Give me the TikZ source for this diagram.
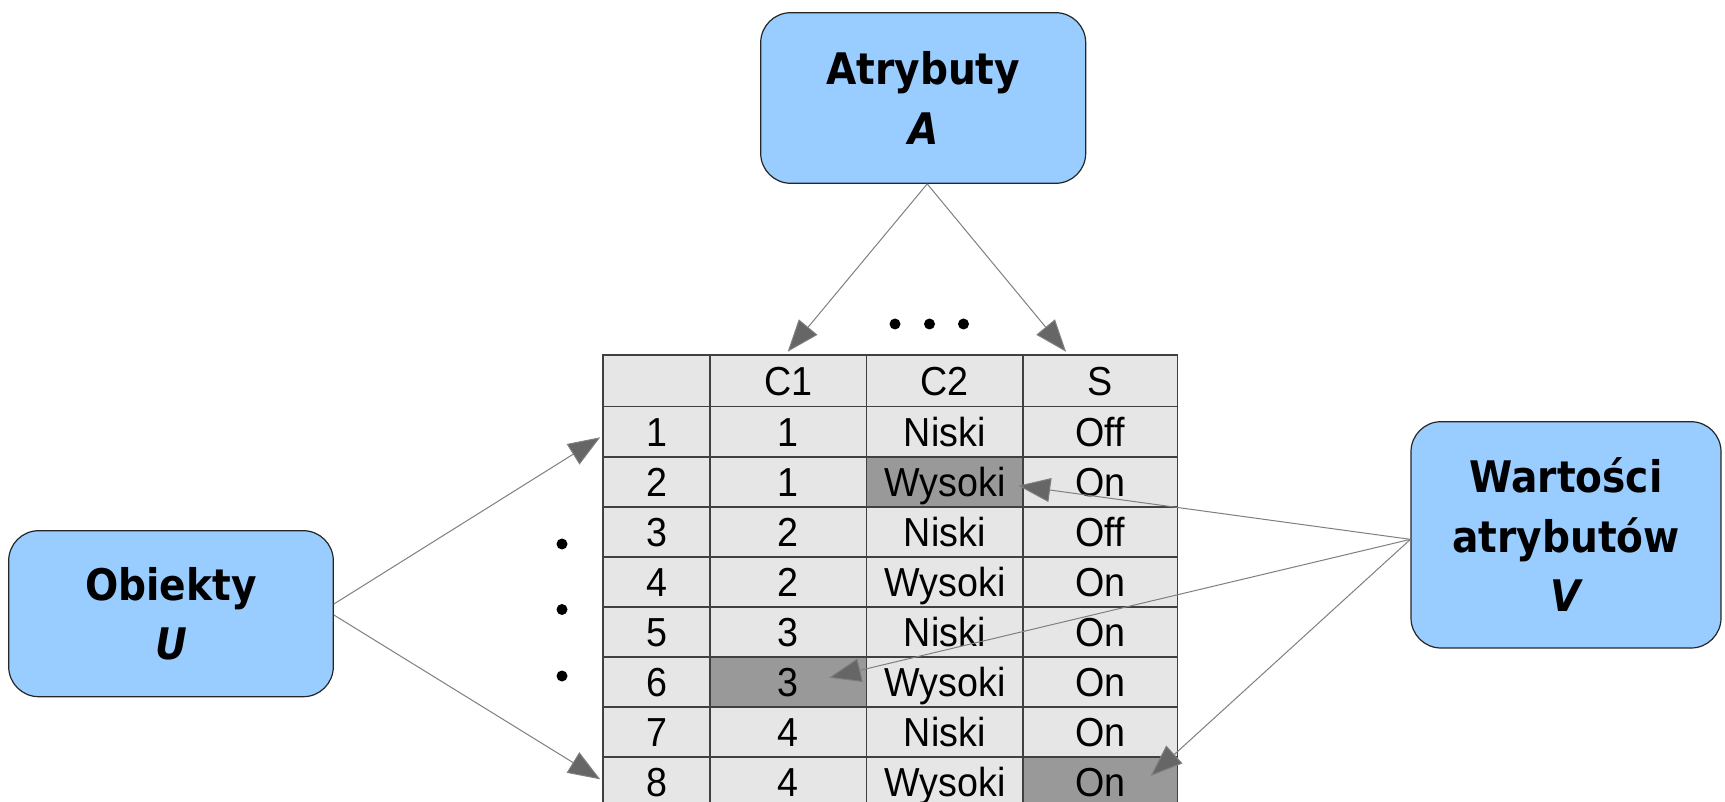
\documentclass[tikz,border=0pt]{standalone}
\usepackage{fontspec}
\usetikzlibrary{arrows.meta,calc}
\newfontfamily\cellfont{Liberation Sans}[FakeStretch=0.93,Kerning=Off]
\newfontfamily\labelfont{DejaVu Sans}[FakeStretch=0.9]
\definecolor{boxblue}{HTML}{99CCFF}
\definecolor{cellgray}{HTML}{E6E6E6}
\definecolor{markgray}{HTML}{999999}
\definecolor{gridgray}{HTML}{404040}
\definecolor{linkgray}{HTML}{7F7F7F}
\definecolor{tipgray}{HTML}{666666}
\tikzset{
  conceptbox/.style={draw=black!85, line width=1.2pt, fill=boxblue,
    rounded corners=30pt, inner sep=0pt, align=center,
    font=\labelfont\bfseries\fontsize{43.5}{59.5}\selectfont},
  cell/.style={draw=gridgray, line width=1.5pt, fill=cellgray, inner sep=0pt,
    text height=29pt, text depth=0pt,
    font=\cellfont\fontsize{40.5}{48}\selectfont},
  marked/.style={fill=markgray},
  link/.style={draw=linkgray, line width=1pt,
    -{Triangle[length=32pt,width=24pt,fill=tipgray]}},
  % highlighted cells of the decision table
  m-2-2/.style={marked},
  m-6-1/.style={marked},
  m-8-3/.style={marked}
}
\begin{document}
\begin{tikzpicture}[x=1pt,y=-1pt]
\useasboundingbox (0,0) rectangle (1725,802);
\fill[white] (0,0) rectangle (1725,802);
\clip (0,0) rectangle (1725,802);

% decision table: header row 0, objects 1..8
\foreach \r/\a/\b/\cc/\d in {0/{}/C1/C2/S, 1/1/1/Niski/Off, 2/2/1/Wysoki/On,
    3/3/2/Niski/Off, 4/4/2/Wysoki/On, 5/5/3/Niski/On, 6/6/3/Wysoki/On,
    7/7/4/Niski/On, 8/8/4/Wysoki/On} {
  \pgfmathsetmacro\ry{\r==0 ? 380.85 : 406.7+50.05*(\r-0.5)}
  \pgfmathsetmacro\rh{\r==0 ? 51.7 : 50.05}
  \node[cell, m-\r-0/.try, minimum width=107pt,   minimum height=\rh pt] (c-\r-0) at (656.5,\ry)   {\a};
  \node[cell, m-\r-1/.try, minimum width=156.5pt, minimum height=\rh pt] (c-\r-1) at (788.25,\ry)  {\b};
  \node[cell, m-\r-2/.try, minimum width=156.5pt, minimum height=\rh pt] (c-\r-2) at (944.75,\ry)  {\cc};
  \node[cell, m-\r-3/.try, minimum width=154.5pt, minimum height=\rh pt] (c-\r-3) at (1100.25,\ry) {\d};
}

% ellipsis marks
\foreach \x in {895,929.5,963.5} \fill (\x,324) circle[radius=5.5pt];
\foreach \y in {544,609.5,676} \fill (562,\y) circle[radius=5.5pt];

% concept boxes
\node[conceptbox, minimum width=325pt, minimum height=170.6pt] (A) at (923.2,98)
  {Atrybuty\\{\itshape A}};
\node[conceptbox, minimum width=324.6pt, minimum height=166pt] (U) at (171,613.7)
  {Obiekty\\{\itshape U}};
\node[conceptbox, minimum width=310pt, minimum height=226.3pt] (V) at (1566,534.85)
  {Wartości\\atrybutów\\{\itshape V}};

% arrow targets
\coordinate (tC1) at (787.7,351.7);
\coordinate (tS)  at (1066,351.7);
\coordinate (tR1) at (600.2,437.3);
\coordinate (tR8) at (600.2,779.3);
\coordinate (tW)  at (1018.3,485.7);
\coordinate (t3)  at (829,677.7);
\coordinate (tOn) at (1150.7,776);

% connectors
\draw[link] ([xshift=4pt]A.south) -- (tC1);
\draw[link] ([xshift=4pt]A.south) -- (tS);
\draw[link] ([yshift=9.7pt]U.east) -- (tR1);
\draw[link] ([yshift=-1.3pt]U.east) -- (tR8);
\draw[link] ([yshift=-4.5pt]V.west) -- (tW);
\draw[link] ([yshift=-4.5pt]V.west) -- (t3);
\draw[link] ([yshift=-4.5pt]V.west) -- (tOn);
\end{tikzpicture}
\end{document}
